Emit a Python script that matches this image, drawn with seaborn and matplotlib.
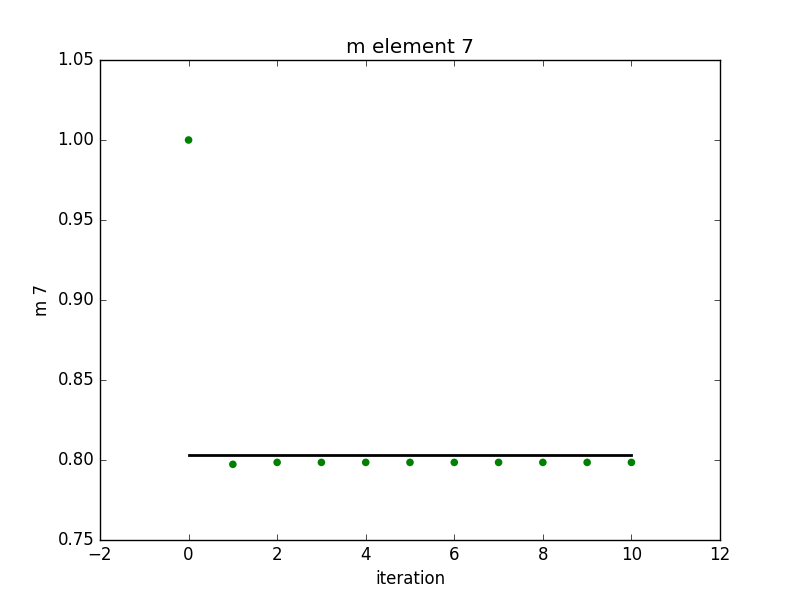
import matplotlib
matplotlib.use("Agg")
import matplotlib.pyplot as plt
import seaborn as sns
import numpy as np

# values
iterations = [0, 1, 2, 3, 4, 5, 6, 7, 8, 9, 10]
m7_values = [1.0, 0.7973, 0.7985, 0.7985, 0.7985, 0.7985, 0.7985, 0.7985, 0.7985, 0.7985, 0.7985]
true_x = [0, 10]
true_value = [0.8031, 0.8031]

plt.style.use("classic")
fig = plt.figure(figsize=(8, 6), dpi=100, facecolor="white")
ax = fig.add_axes([0.125, 0.1, 0.775, 0.8])

sns.lineplot(x=true_x, y=true_value, color="black", linewidth=2, ax=ax)
sns.scatterplot(x=iterations, y=m7_values, color="green", s=30, edgecolor="none", ax=ax, zorder=3)

ax.set_xlim(-2, 12)
ax.set_ylim(0.75, 1.05)
ax.set_xticks(np.arange(-2, 13, 2))
ax.set_yticks(np.arange(0.75, 1.051, 0.05))
ax.set_yticklabels([f"{v:.2f}" for v in np.arange(0.75, 1.051, 0.05)])
ax.set_xlabel("iteration")
ax.set_ylabel("m 7")
ax.set_title("m element 7")

fig.savefig("out.png", dpi=100, facecolor="white")
